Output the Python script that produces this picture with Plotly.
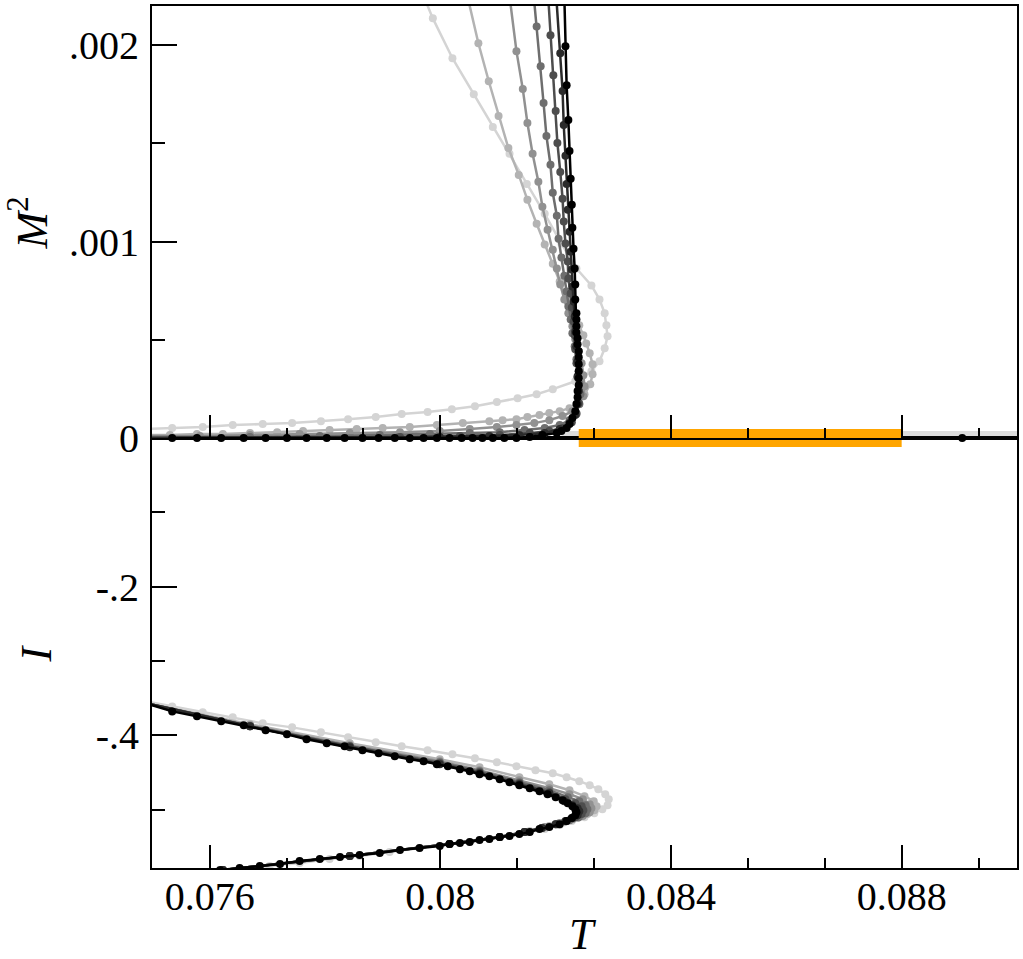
import plotly.graph_objects as go

# ---------------- top panel: M^2 vs T (seven curves, light -> black) ----------------
T_top_1 = [0.07971, 0.07987, 0.08021, 0.08058, 0.08091, 0.08120, 0.08150, 0.08181, 0.08210, 0.08236,
           0.08262, 0.08276, 0.08285, 0.08288, 0.08290, 0.08285, 0.08276, 0.08262, 0.08234, 0.08195,
           0.08167, 0.08134, 0.08098, 0.08060, 0.08020, 0.07978, 0.07933, 0.07888, 0.07840, 0.07793,
           0.07743, 0.07692, 0.07640, 0.07588, 0.07535, 0.07490]
M2_1 = [0.002250, 0.002137, 0.001934, 0.001751, 0.001584, 0.001447, 0.001294, 0.001142, 0.000990, 0.000863,
        0.000777, 0.000706, 0.000635, 0.000574, 0.000518, 0.000457, 0.000391, 0.000340, 0.000289, 0.000249,
        0.000223, 0.000203, 0.000183, 0.000162, 0.000147, 0.000132, 0.000122, 0.000107, 0.000096, 0.000086,
        0.000076, 0.000071, 0.000066, 0.000056, 0.000051, 0.000046]

T_top_2 = [0.08047, 0.08066, 0.08084, 0.08101, 0.08118, 0.08136, 0.08151, 0.08167, 0.08181, 0.08195,
           0.08207, 0.08219, 0.08231, 0.08241, 0.08248, 0.08253, 0.08259, 0.08264, 0.08264, 0.08260,
           0.08250, 0.08238, 0.08224, 0.08207, 0.08189, 0.08172, 0.08151, 0.08132, 0.08108, 0.08085,
           0.08039, 0.07994, 0.07947, 0.07900, 0.07855, 0.07808, 0.07762, 0.07717, 0.07670, 0.07623,
           0.07578, 0.07531, 0.07490]
M2_2 = [0.002250, 0.002010, 0.001817, 0.001640, 0.001477, 0.001340, 0.001213, 0.001091, 0.000985, 0.000888,
        0.000797, 0.000711, 0.000635, 0.000574, 0.000523, 0.000482, 0.000432, 0.000376, 0.000325, 0.000274,
        0.000223, 0.000178, 0.000152, 0.000137, 0.000127, 0.000117, 0.000107, 0.000096, 0.000091, 0.000086,
        0.000076, 0.000066, 0.000056, 0.000051, 0.000046, 0.000041, 0.000036, 0.000030, 0.000025, 0.000020,
        0.000020, 0.000015, 0.000015]

T_top_3 = [0.08120, 0.08132, 0.08143, 0.08151, 0.08160, 0.08170, 0.08177, 0.08186, 0.08195, 0.08202,
           0.08208, 0.08215, 0.08222, 0.08229, 0.08234, 0.08240, 0.08245, 0.08248, 0.08250, 0.08248,
           0.08241, 0.08229, 0.08212, 0.08189, 0.08163, 0.08132, 0.08098, 0.08051, 0.07999, 0.07930,
           0.07843, 0.07756, 0.07670, 0.07583, 0.07490]
M2_3 = [0.002250, 0.001970, 0.001777, 0.001604, 0.001447, 0.001305, 0.001178, 0.001061, 0.000959, 0.000863,
        0.000782, 0.000706, 0.000635, 0.000569, 0.000503, 0.000442, 0.000381, 0.000320, 0.000264, 0.000213,
        0.000173, 0.000137, 0.000112, 0.000091, 0.000076, 0.000066, 0.000056, 0.000046, 0.000036, 0.000030,
        0.000025, 0.000020, 0.000015, 0.000010, 0.000010]

T_top_4 = [0.08162, 0.08167, 0.08174, 0.08179, 0.08184, 0.08191, 0.08195, 0.08202, 0.08205, 0.08210,
           0.08215, 0.08219, 0.08222, 0.08226, 0.08229, 0.08233, 0.08236, 0.08240, 0.08241, 0.08243,
           0.08241, 0.08236, 0.08224, 0.08207, 0.08181, 0.08146, 0.08103, 0.08051, 0.07982, 0.07895,
           0.07791, 0.07670, 0.07490]
M2_4 = [0.002250, 0.002096, 0.001893, 0.001706, 0.001538, 0.001391, 0.001249, 0.001132, 0.001015, 0.000919,
        0.000827, 0.000746, 0.000670, 0.000604, 0.000533, 0.000467, 0.000401, 0.000340, 0.000279, 0.000223,
        0.000173, 0.000127, 0.000091, 0.000066, 0.000051, 0.000041, 0.000030, 0.000025, 0.000020, 0.000015,
        0.000010, 0.000005, 0.000005]

T_top_5 = [0.08187, 0.08191, 0.08196, 0.08200, 0.08203, 0.08208, 0.08212, 0.08214, 0.08217, 0.08221,
           0.08222, 0.08226, 0.08228, 0.08231, 0.08233, 0.08234, 0.08236, 0.08238, 0.08240, 0.08240,
           0.08236, 0.08228, 0.08212, 0.08189, 0.08155, 0.08103, 0.08034, 0.07930, 0.07490]
M2_5 = [0.002250, 0.002051, 0.001848, 0.001665, 0.001503, 0.001355, 0.001218, 0.001102, 0.000990, 0.000899,
        0.000812, 0.000736, 0.000665, 0.000594, 0.000523, 0.000452, 0.000381, 0.000310, 0.000239, 0.000178,
        0.000122, 0.000081, 0.000051, 0.000036, 0.000025, 0.000015, 0.000010, 0.000005, 0.0]

T_top_6 = [0.08201, 0.08208, 0.08212, 0.08214, 0.08217, 0.08219, 0.08221, 0.08224, 0.08226, 0.08228,
           0.08229, 0.08231, 0.08233, 0.08234, 0.08236, 0.08238, 0.08238, 0.08240, 0.08238, 0.08234,
           0.08224, 0.08207, 0.08181, 0.08137, 0.08085, 0.07999, 0.07490]
M2_6 = [0.002250, 0.001959, 0.001767, 0.001594, 0.001437, 0.001294, 0.001162, 0.001051, 0.000949, 0.000858,
        0.000772, 0.000695, 0.000619, 0.000543, 0.000467, 0.000391, 0.000315, 0.000239, 0.000173, 0.000117,
        0.000076, 0.000046, 0.000025, 0.000015, 0.000010, 0.000005, 0.0]

T_top_7 = [0.08215, 0.08217, 0.08219, 0.08222, 0.08224, 0.08226, 0.08228, 0.08229, 0.08231, 0.08233,
           0.08234, 0.08234, 0.08236, 0.08236, 0.08236, 0.08236, 0.08238, 0.08238, 0.08240, 0.08240,
           0.08240, 0.08240, 0.08240, 0.08240, 0.08238, 0.08238, 0.08236, 0.08234, 0.08229, 0.08224,
           0.08219, 0.08210, 0.08202, 0.08177, 0.08155, 0.08132, 0.08111, 0.08091, 0.08073, 0.08056,
           0.08037, 0.08016, 0.07994, 0.07971, 0.07947, 0.07921, 0.07893, 0.07865, 0.07834, 0.07803,
           0.07768, 0.07734, 0.07697, 0.07659, 0.07620, 0.07578, 0.07535]
M2_7 = [0.002250, 0.001995, 0.001797, 0.001619, 0.001462, 0.001320, 0.001188, 0.001071, 0.000964, 0.000863,
        0.000782, 0.000706, 0.000635, 0.000604, 0.000569, 0.000538, 0.000508, 0.000477, 0.000442, 0.000411,
        0.000376, 0.000340, 0.000305, 0.000269, 0.000239, 0.000208, 0.000173, 0.000137, 0.000102, 0.000071,
        0.000051, 0.000036, 0.000025, 0.000015, 0.000005, 0.0, 0.0, 0.0, 0.0, 0.0,
        0.0, 0.0, 0.0, 0.0, 0.0, 0.0, 0.0, 0.0, 0.0, 0.0,
        0.0, 0.0, 0.0, 0.0, 0.0, 0.0, 0.0]

# extra marks in the top panel
T_band = [0.0824, 0.0880]          # orange bar along M^2 = 0
T_gray_line = [0.0821, 0.0902]     # faint line just above M^2 = 0
M2_gray_line = [0.0000228, 0.0000228]
T_dot = [0.08905]
M2_dot = [0.0]

# ---------------- bottom panel: I vs T ----------------
T_bot_1 = [0.07490, 0.07535, 0.07588, 0.07640, 0.07692, 0.07743, 0.07793, 0.07840, 0.07888, 0.07933,
           0.07978, 0.08021, 0.08060, 0.08098, 0.08132, 0.08165, 0.08195, 0.08219, 0.08241, 0.08259,
           0.08274, 0.08286, 0.08292, 0.08290, 0.08281, 0.08267, 0.08250, 0.08228, 0.08207, 0.08181,
           0.08155, 0.08120, 0.08085, 0.08051, 0.08016, 0.07964, 0.07912, 0.07860, 0.07808, 0.07756,
           0.07704, 0.07652, 0.07609]
I_1 = [-0.3544, -0.3611, -0.3691, -0.3758, -0.3839, -0.3893, -0.3960, -0.4027, -0.4094, -0.4148,
       -0.4201, -0.4255, -0.4309, -0.4362, -0.4416, -0.4470, -0.4510, -0.4564, -0.4617, -0.4671,
       -0.4725, -0.4792, -0.4859, -0.4940, -0.4993, -0.5047, -0.5101, -0.5154, -0.5208, -0.5262,
       -0.5302, -0.5356, -0.5396, -0.5436, -0.5463, -0.5517, -0.5570, -0.5624, -0.5664, -0.5718,
       -0.5758, -0.5799, -0.5839]

T_bot_2 = [0.07490, 0.07670, 0.07843, 0.07999, 0.08068, 0.08137, 0.08189, 0.08224, 0.08250, 0.08266,
           0.08271, 0.08267, 0.08255, 0.08238, 0.08215, 0.08189, 0.08155, 0.08103, 0.08016, 0.07843, 0.07623]
I_2 = [-0.3570, -0.3852, -0.4107, -0.4322, -0.4430, -0.4564, -0.4658, -0.4738, -0.4819, -0.4886,
       -0.4953, -0.5007, -0.5060, -0.5114, -0.5168, -0.5221, -0.5289, -0.5369, -0.5463, -0.5624, -0.5812]

T_bot_3 = [0.07490, 0.07670, 0.07843, 0.07999, 0.08068, 0.08137, 0.08189, 0.08224, 0.08247, 0.08259,
           0.08262, 0.08259, 0.08247, 0.08229, 0.08207, 0.08181, 0.08146, 0.08103, 0.08016, 0.07843, 0.07623]
I_3 = [-0.3570, -0.3866, -0.4134, -0.4349, -0.4470, -0.4604, -0.4711, -0.4792, -0.4859, -0.4926,
       -0.4980, -0.5034, -0.5087, -0.5128, -0.5181, -0.5235, -0.5302, -0.5369, -0.5463, -0.5624, -0.5812]

T_bot_4 = [0.07490, 0.07670, 0.07843, 0.07999, 0.08068, 0.08137, 0.08189, 0.08221, 0.08241, 0.08252,
           0.08255, 0.08252, 0.08240, 0.08224, 0.08203, 0.08177, 0.08146, 0.08103, 0.08016, 0.07843, 0.07623]
I_4 = [-0.3570, -0.3879, -0.4148, -0.4362, -0.4483, -0.4631, -0.4738, -0.4832, -0.4886, -0.4940,
       -0.4993, -0.5047, -0.5101, -0.5141, -0.5195, -0.5248, -0.5302, -0.5369, -0.5463, -0.5624, -0.5812]

T_bot_5 = [0.07490, 0.07670, 0.07843, 0.07999, 0.08068, 0.08137, 0.08189, 0.08217, 0.08234, 0.08245,
           0.08248, 0.08245, 0.08234, 0.08219, 0.08200, 0.08176, 0.08146, 0.08103, 0.08016, 0.07843, 0.07623]
I_5 = [-0.3570, -0.3879, -0.4148, -0.4376, -0.4497, -0.4644, -0.4765, -0.4859, -0.4913, -0.4953,
       -0.5007, -0.5060, -0.5101, -0.5154, -0.5195, -0.5248, -0.5302, -0.5369, -0.5463, -0.5624, -0.5812]

T_bot_6 = [0.07490, 0.07670, 0.07843, 0.07999, 0.08068, 0.08137, 0.08189, 0.08215, 0.08229, 0.08238,
           0.08241, 0.08238, 0.08229, 0.08217, 0.08200, 0.08176, 0.08146, 0.08103, 0.08016, 0.07843, 0.07623]
I_6 = [-0.3570, -0.3879, -0.4161, -0.4389, -0.4510, -0.4658, -0.4779, -0.4886, -0.4940, -0.4980,
       -0.5020, -0.5074, -0.5114, -0.5154, -0.5195, -0.5248, -0.5302, -0.5369, -0.5463, -0.5624, -0.5812]

T_bot_7 = [0.07490, 0.07535, 0.07578, 0.07620, 0.07659, 0.07697, 0.07734, 0.07768, 0.07803, 0.07834,
           0.07865, 0.07893, 0.07921, 0.07947, 0.07971, 0.07994, 0.08013, 0.08034, 0.08051, 0.08068,
           0.08085, 0.08103, 0.08120, 0.08137, 0.08155, 0.08172, 0.08186, 0.08200, 0.08212, 0.08221,
           0.08229, 0.08234, 0.08236,
           0.08234, 0.08228, 0.08219, 0.08207, 0.08189, 0.08172, 0.08155, 0.08137, 0.08120, 0.08103,
           0.08085, 0.08068, 0.08051, 0.08034, 0.08016, 0.07999, 0.07964, 0.07930, 0.07895, 0.07860,
           0.07826, 0.07791, 0.07756, 0.07722, 0.07687, 0.07652, 0.07618]
I_7 = [-0.3570, -0.3678, -0.3745, -0.3812, -0.3866, -0.3933, -0.3987, -0.4054, -0.4107, -0.4148,
       -0.4201, -0.4242, -0.4282, -0.4322, -0.4349, -0.4389, -0.4416, -0.4456, -0.4483, -0.4523,
       -0.4550, -0.4591, -0.4631, -0.4671, -0.4711, -0.4752, -0.4792, -0.4832, -0.4872, -0.4913,
       -0.4953, -0.4993, -0.5034,
       -0.5074, -0.5114, -0.5154, -0.5195, -0.5235, -0.5262, -0.5302, -0.5329, -0.5356, -0.5369,
       -0.5396, -0.5409, -0.5436, -0.5450, -0.5463, -0.5490, -0.5517, -0.5544, -0.5584, -0.5611,
       -0.5638, -0.5664, -0.5691, -0.5732, -0.5758, -0.5785, -0.5812]

# axis ticks / labels
x_major = [0.076, 0.080, 0.084, 0.088]
x_major_text = ["0.076", "0.08", "0.084", "0.088"]
x_minor = [0.077333, 0.078667, 0.081333, 0.082667, 0.085333, 0.086667, 0.089333]
m2_major = [0.0, 0.001, 0.002]
m2_major_text = ["0", ".001", ".002"]
m2_minor = [0.0005, 0.0015]
i_major = [-0.4, -0.2]
i_major_text = ["-.4", "-.2"]
i_minor = [-0.5, -0.3, -0.1]

colors = ["#d4d4d4", "#b3b3b3", "#919191", "#6e6e6e", "#4d4d4d", "#2b2b2b", "#000000"]

top_T = [T_top_1, T_top_2, T_top_3, T_top_4, T_top_5, T_top_6, T_top_7]
top_M2 = [M2_1, M2_2, M2_3, M2_4, M2_5, M2_6, M2_7]
bot_T = [T_bot_1, T_bot_2, T_bot_3, T_bot_4, T_bot_5, T_bot_6, T_bot_7]
bot_I = [I_1, I_2, I_3, I_4, I_5, I_6, I_7]

FONT = "Liberation Serif"
fig = go.Figure()

# faint line first, then the orange bar (drawn in both panels so it straddles the zero line)
fig.add_trace(go.Scatter(x=T_gray_line, y=M2_gray_line, mode="lines", xaxis="x2", yaxis="y2",
                         line=dict(color="#dcdcdc", width=5), showlegend=False, hoverinfo="skip"))
fig.add_trace(go.Scatter(x=T_band, y=[0, 0], mode="lines", xaxis="x2", yaxis="y2",
                         line=dict(color="#ffa500", width=18), showlegend=False, hoverinfo="skip"))
fig.add_trace(go.Scatter(x=T_band, y=[0, 0], mode="lines", xaxis="x", yaxis="y",
                         line=dict(color="#ffa500", width=18), showlegend=False, hoverinfo="skip"))

for k in range(7):
    fig.add_trace(go.Scatter(x=top_T[k], y=top_M2[k], mode="lines+markers", xaxis="x2", yaxis="y2",
                             line=dict(color=colors[k], width=2.5),
                             marker=dict(color=colors[k], size=8),
                             cliponaxis=(k < 6), showlegend=False))
    fig.add_trace(go.Scatter(x=bot_T[k], y=bot_I[k], mode="lines+markers", xaxis="x", yaxis="y",
                             line=dict(color=colors[k], width=2.5),
                             marker=dict(color=colors[k], size=8),
                             showlegend=False))

fig.add_trace(go.Scatter(x=T_dot, y=M2_dot, mode="markers", xaxis="x2", yaxis="y2",
                         marker=dict(color="#000000", size=8), cliponaxis=False, showlegend=False))

tickfont = dict(family=FONT, size=40, color="black")
common_x = dict(range=[0.075, 0.090], tickmode="array", tickvals=x_major, ticktext=x_major_text,
                ticks="inside", ticklen=23, tickwidth=2, tickcolor="black",
                showline=True, linewidth=2, linecolor="black", mirror=True,
                showgrid=False, zeroline=False, tickfont=tickfont,
                minor=dict(tickmode="array", tickvals=x_minor, ticks="inside", ticklen=10,
                           tickwidth=2, tickcolor="black", showgrid=False))
split = 0.4988
fig.update_layout(
    width=1023, height=959,
    margin=dict(l=152, r=5, t=4, b=91),
    paper_bgcolor="white", plot_bgcolor="white",
    xaxis=dict(domain=[0, 1], anchor="y", ticklabelstandoff=-8, **common_x),
    xaxis2=dict(domain=[0, 1], anchor="y2", matches="x", showticklabels=False, **common_x),
    yaxis=dict(domain=[0, split], anchor="x", range=[-0.5785, 0], tickmode="array",
               tickvals=i_major, ticktext=i_major_text, ticks="inside", ticklen=25, tickwidth=2,
               tickcolor="black", showline=True, linewidth=2, linecolor="black", mirror=True,
               showgrid=False, zeroline=False, tickfont=tickfont, ticklabelstandoff=3,
               minor=dict(tickmode="array", tickvals=i_minor, ticks="inside", ticklen=13,
                          tickwidth=2, tickcolor="black", showgrid=False)),
    yaxis2=dict(domain=[split, 1], anchor="x2", range=[0, 0.0022], tickmode="array",
                tickvals=m2_major, ticktext=m2_major_text, ticks="inside", ticklen=25, tickwidth=2,
                tickcolor="black", showline=True, linewidth=2, linecolor="black", mirror=True,
                showgrid=False, zeroline=False, tickfont=tickfont, ticklabelstandoff=3,
                minor=dict(tickmode="array", tickvals=m2_minor, ticks="inside", ticklen=13,
                           tickwidth=2, tickcolor="black", showgrid=False)),
    annotations=[
        dict(text="<i>M</i><sup>2</sup>", xref="paper", yref="paper", x=-0.143, y=0.748,
             textangle=-90, showarrow=False, xanchor="center", yanchor="middle",
             font=dict(family=FONT, size=44, color="black")),
        dict(text="<i>I</i>", xref="paper", yref="paper", x=-0.134, y=0.249,
             textangle=-90, showarrow=False, xanchor="center", yanchor="middle",
             font=dict(family=FONT, size=44, color="black")),
        dict(text="<i>T</i>", xref="paper", yref="paper", x=0.4988, y=-0.077,
             showarrow=False, xanchor="center", yanchor="middle",
             font=dict(family=FONT, size=44, color="black")),
    ],
)

fig.write_html("out.html")
